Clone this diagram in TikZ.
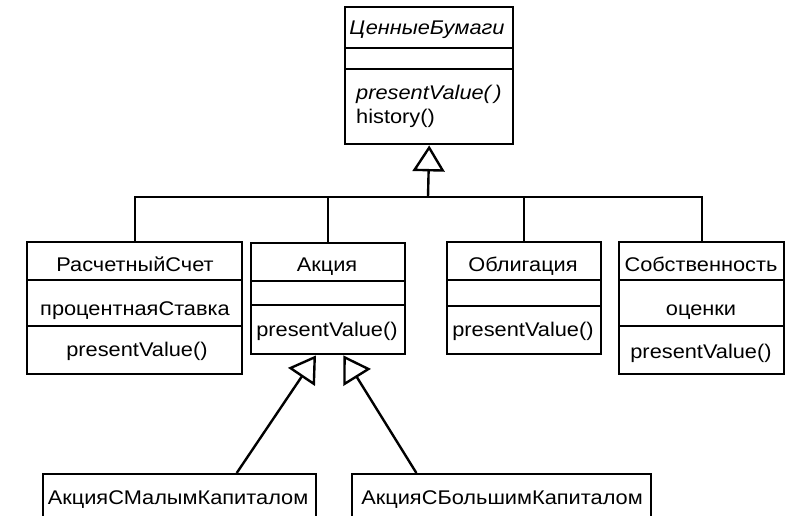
\documentclass[tikz,border=0pt]{standalone}
\usepackage{fontspec}
\setmainfont{Liberation Sans}[FakeStretch=1.1]
\usetikzlibrary{arrows.meta,calc}
\begin{document}
\begin{tikzpicture}[x=1pt,y=1pt,
  box/.style={draw, line width=2.4pt, inner sep=0pt, anchor=north west},
  div/.style={line width=2.4pt},
  lbl/.style={inner sep=0pt, anchor=base, font=\fontsize{19.8}{24}\selectfont},
  conn/.style={line width=2.4pt},
  inh/.style={line width=2.4pt, -{Triangle[open, length=26pt, width=32pt]}}]
\begin{scope}[yshift=515pt, y=-1pt]
\useasboundingbox (0,0) rectangle (792,515);
% top class
\node[box, minimum width=168pt, minimum height=137pt] (cb) at (344,6) {};
\draw[div] (344,48) -- (512,48);
\draw[div] (344,69) -- (512,69);
\node[lbl] (cbn) at (427,35) {\itshape ЦенныеБумаги};
\node[lbl, anchor=base west] (cbm1) at (356,100) {\itshape presentValue(\,)};
\node[lbl, anchor=base west] (cbm2) at (356,124) {history()};
% row of subclasses
\node[box, minimum width=215pt, minimum height=132pt] (rs) at (26,241) {};
\draw[div] (26,280) -- (241,280);
\draw[div] (26,326) -- (241,326);
\node[lbl] (rsn) at (135,271) {РасчетныйСчет};
\node[lbl] (rsa) at (135,315) {процентнаяСтавка};
\node[lbl] (rsm) at (137,356) {presentValue()};

\node[box, minimum width=154pt, minimum height=111pt] (ak) at (250,242) {};
\draw[div] (250,281) -- (404,281);
\draw[div] (250,305) -- (404,305);
\node[lbl] (akn) at (327,271) {Акция};
\node[lbl] (akm) at (327,336) {presentValue()};

\node[box, minimum width=154pt, minimum height=112pt] (ob) at (446,241) {};
\draw[div] (446,280) -- (600,280);
\draw[div] (446,306) -- (600,306);
\node[lbl] (obn) at (523,271) {Облигация};
\node[lbl] (obm) at (523,336) {presentValue()};

\node[box, minimum width=165pt, minimum height=132pt] (so) at (618,241) {};
\draw[div] (618,280) -- (783,280);
\draw[div] (618,326) -- (783,326);
\node[lbl] (son) at (701,271) {Собственность};
\node[lbl] (soa) at (701,315) {оценки};
\node[lbl] (som) at (701,358) {presentValue()};

% bottom classes (cut by the page edge)
\begin{scope}
\clip (0,0) rectangle (792,515);
\node[box, minimum width=273pt, minimum height=60pt] (sm) at (42,473) {};
\node[box, minimum width=299pt, minimum height=60pt] (sb) at (351,473) {};
\end{scope}
\node[lbl] (smn) at (178,504) {АкцияСМалымКапиталом};
\node[lbl] (sbn) at (502,504) {АкцияСБольшимКапиталом};

\coordinate (hub) at (428,197);
\end{scope}

% generalisation connectors
\draw[conn] (rs.north) |- (hub) -| (so.north);
\draw[conn] (ak.north) -- (ak.north |- hub);
\draw[conn] (ob.north) -- (ob.north |- hub);
\draw[inh] (hub) -- (cb.south);
\draw[inh] ($(sm.north west)!0.707!(sm.north east)$) -- ($(ak.south west)!0.422!(ak.south east)$);
\draw[inh] ($(sb.north west)!0.217!(sb.north east)$) -- ($(ak.south west)!0.597!(ak.south east)$);
\end{tikzpicture}
\end{document}
